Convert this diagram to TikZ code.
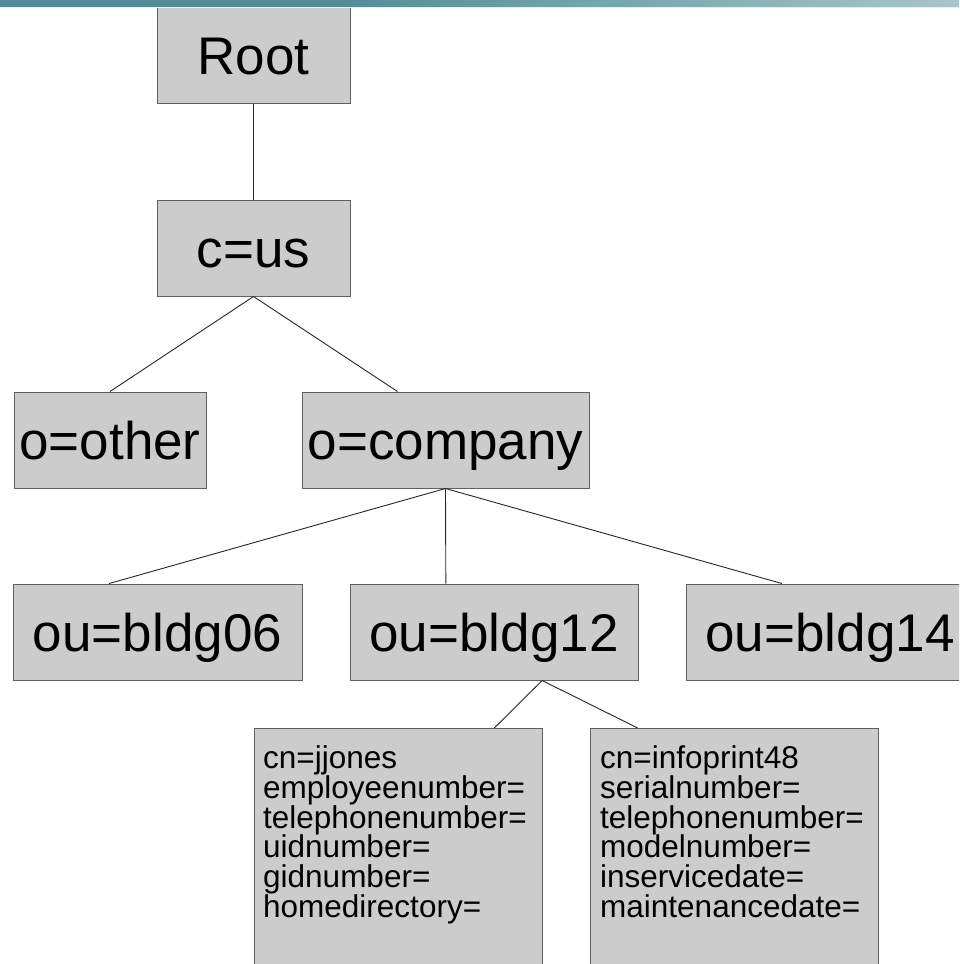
\documentclass[tikz,border=0pt]{standalone}
\usepackage{fontspec}
\setmainfont{Liberation Sans}
\usetikzlibrary{calc}
\definecolor{boxfill}{HTML}{CCCCCC}
\definecolor{boxline}{HTML}{606060}
\definecolor{barteal}{RGB}{80,140,150}
\definecolor{barlight}{RGB}{234,241,243}
\definecolor{baredge}{RGB}{222,240,240}
\pgfdeclarehorizontalshading{barshade}{100bp}{color(0bp)=(barteal); color(42bp)=(barteal); color(100bp)=(barlight)}
\begin{document}
\begin{tikzpicture}[x=1pt,y=-1pt,
  box/.style={draw=boxline, fill=boxfill, line width=1pt, inner sep=0pt,
    minimum height=96pt, font=\fontsize{53}{60}\selectfont,
    text height=38pt, text depth=0pt},
  leafbox/.style={draw=boxline, fill=boxfill, line width=1pt, inner sep=0pt,
    anchor=north, minimum width=288pt, minimum height=280pt},
  leaftext/.style={anchor=north west, inner sep=0pt, align=left,
    font=\fontsize{31.5}{29.8}\selectfont},
  conn/.style={draw=black!85, line width=0.9pt}]
\useasboundingbox (0,0) rectangle (959,964);
\clip (0,0) rectangle (959,964);
\fill[white] (0,0) rectangle (959,964);

\node[box, minimum width=193pt] (root) at (253.5,55) {Root};
\node[box, minimum width=193pt] (cus) at (253.5,248) {c=us};
\node[box, minimum width=192pt] (other) at (110,440) {o=other};
\node[box, minimum width=287pt] (comp) at (445.5,440) {o=company};
\node[box, minimum width=289pt] (b06) at (157.5,632) {ou=bldg06};
\node[box, minimum width=288pt] (b12) at (494,632) {ou=bldg12};
\node[box, minimum width=288pt] (b14) at (830,632) {ou=bldg14};

\node[leafbox] (jj) at (398,728) {};
\node[leaftext] (jjt) at (263,745.5) {cn=jjones\\employeenumber=\\telephonenumber=\\uidnumber=\\gidnumber=\\homedirectory=};
\node[leafbox] (ip) at (734,728) {};
\node[leaftext] (ipt) at (600,745.5) {cn=infoprint48\\serialnumber=\\telephonenumber=\\modelnumber=\\inservicedate=\\maintenancedate=};

\draw[conn] (root.south) -- (cus.north);
\draw[conn] (cus.south) -- (other.north);
\draw[conn] (cus.south) -- ($(comp.north west)!1/3!(comp.north east)$);
\draw[conn] (comp.south) -- ($(b06.north west)!1/3!(b06.north east)$);
\draw[conn] (comp.south) -- ($(b12.north west)!1/3!(b12.north east)$);
\draw[conn] (comp.south) -- ($(b14.north west)!1/3!(b14.north east)$);
\draw[conn] ($(b12.south west)!2/3!(b12.south east)$) -- ($(jj.north west)!5/6!(jj.north east)$);
\draw[conn] ($(b12.south west)!2/3!(b12.south east)$) -- ($(ip.north west)!1/6!(ip.north east)$);

% top bar
\shade[shading=barshade] (0,0) rectangle (959,7);
\fill[baredge] (0,7) rectangle (959,8);
\end{tikzpicture}
\end{document}
